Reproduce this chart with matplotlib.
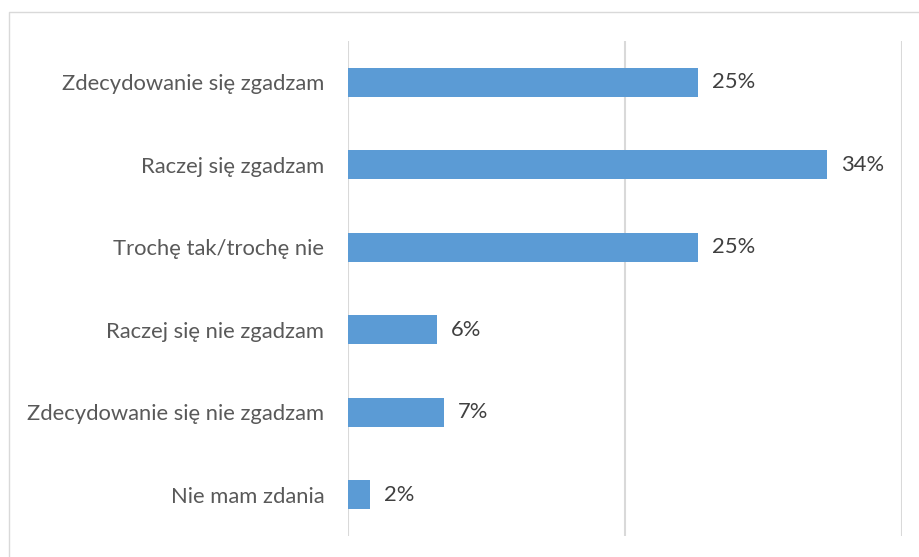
import matplotlib.pyplot as plt
from matplotlib.lines import Line2D

# dane
categories = ["Zdecydowanie się zgadzam", "Raczej się zgadzam", "Trochę tak/trochę nie",
              "Raczej się nie zgadzam", "Zdecydowanie się nie zgadzam", "Nie mam zdania"]
values = [25.3, 34.6, 25.3, 6.45, 6.96, 1.6]
labels = ["25%", "34%", "25%", "6%", "7%", "2%"]

W, H = 919, 557
fig = plt.figure(figsize=(W / 100, H / 100), dpi=100)
plt.rcParams['font.family'] = ['Lato', 'DejaVu Sans']

# ramka wykresu (widać tylko górną i lewą krawędź)
fig.lines.append(Line2D([8.5 / W, 8.5 / W, 1], [0, 1 - 11.5 / H, 1 - 11.5 / H],
                        transform=fig.transFigure, color="#d9d9d9", linewidth=1))

ax = fig.add_axes([348 / W, 1 - 536 / H, (902 - 348) / W, (536 - 41) / H])
y = list(range(len(categories)))
ax.barh(y, values, height=0.35, color="#5b9bd5", zorder=3)
ax.set_ylim(len(categories) - 0.5, -0.5)
ax.set_xlim(0, 40)
ax.set_xticks([0, 20, 40])
ax.xaxis.grid(True, color="#d9d9d9", linewidth=1.5, zorder=0)
ax.tick_params(axis="x", length=0, labelbottom=False)
ax.tick_params(axis="y", length=0, pad=17, labelsize=15.8, labelcolor="#595959")
ax.set_yticks(y)
ax.set_yticklabels(categories)
for s in ax.spines.values():
    s.set_visible(False)

for yi, v, lab in zip(y, values, labels):
    ax.text(v + 1.0, yi, lab, va="center", ha="left", fontsize=15.8, color="#404040")

fig.savefig("out.png", dpi=100)
